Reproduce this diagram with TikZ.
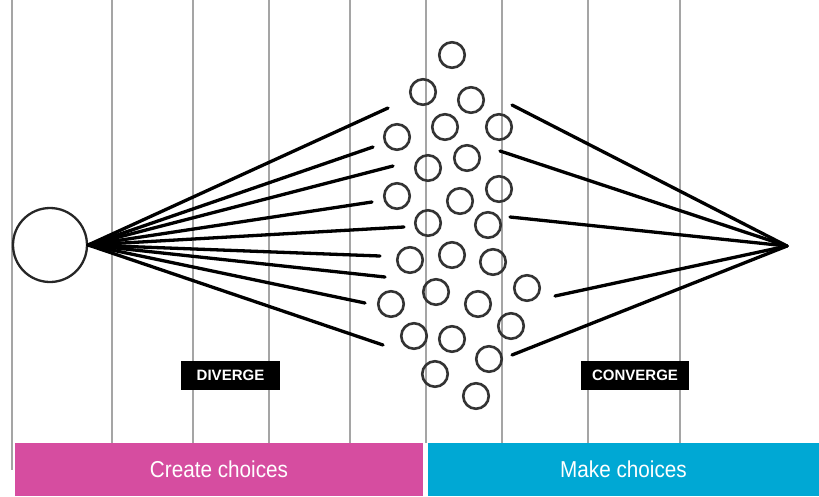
\documentclass[tikz,border=0pt]{standalone}
\usepackage{fontspec}
\setmainfont{Liberation Sans}
\usepackage{tikz}
\definecolor{choicepink}{RGB}{214,77,160}
\definecolor{choicecyan}{RGB}{0,168,212}
\definecolor{gridgray}{RGB}{165,165,165}

\begin{document}
\begin{tikzpicture}[x=1pt,y=-1pt,
	idea/.style={circle, draw=black!80, line width=2.6pt, minimum size=25.5pt, inner sep=0pt},
	fan/.style={black, line width=3.3pt, line cap=round},
	divider/.style={gridgray, line width=1.3pt},
	tag/.style={fill=black, text=white, font=\fontsize{15}{15}\selectfont\bfseries, minimum height=29pt, inner sep=0pt},
	phase/.style={text=white, font=\fontsize{23}{23}\selectfont, minimum height=53pt, inner sep=0pt}]
	\useasboundingbox (0,0) rectangle (819,496);
	
	% dividers
	\draw[divider] (12,0) -- (12,470);
	\draw[divider] (112,0) -- (112,443);
	\draw[divider] (193,0) -- (193,443);
	\draw[divider] (269,0) -- (269,443);
	\draw[divider] (350,0) -- (350,443);
	\draw[divider] (426,0) -- (426,443);
	\draw[divider] (502,0) -- (502,443);
	\draw[divider] (588,0) -- (588,443);
	\draw[divider] (680,0) -- (680,443);
	
	% start and end
	\node[circle, draw=black!85, line width=2.3pt, minimum size=74pt, inner sep=0pt] (hub) at (50,245) {};
	\coordinate (sink) at (787,246);
	
	% ideas
	\node[idea] (c1) at (452,55) {};
	\node[idea] (c2) at (423,92) {};
	\node[idea] (c3) at (471,100) {};
	\node[idea] (c4) at (445,127) {};
	\node[idea] (c5) at (499,127) {};
	\node[idea] (c6) at (397,137) {};
	\node[idea] (c7) at (467,158) {};
	\node[idea] (c8) at (428,168) {};
	\node[idea] (c9) at (499,189) {};
	\node[idea] (c10) at (397,196) {};
	\node[idea] (c11) at (460,201) {};
	\node[idea] (c12) at (428,223) {};
	\node[idea] (c13) at (488,225) {};
	\node[idea] (c14) at (410,260) {};
	\node[idea] (c15) at (452,255) {};
	\node[idea] (c16) at (493,262) {};
	\node[idea] (c17) at (527,288) {};
	\node[idea] (c18) at (436,292) {};
	\node[idea] (c19) at (391,304) {};
	\node[idea] (c20) at (478,304) {};
	\node[idea] (c21) at (511,326) {};
	\node[idea] (c22) at (414,336) {};
	\node[idea] (c23) at (452,339) {};
	\node[idea] (c24) at (489,359) {};
	\node[idea] (c25) at (435,374) {};
	\node[idea] (c26) at (476,396) {};
	
	% diverge ends
	\coordinate (d1) at (388,108);
	\coordinate (d2) at (373,147);
	\coordinate (d3) at (393,166);
	\coordinate (d4) at (372,202);
	\coordinate (d5) at (404,227);
	\coordinate (d6) at (380,256);
	\coordinate (d7) at (385,277);
	\coordinate (d8) at (365,303);
	\coordinate (d9) at (383,345);
	% converge ends
	\coordinate (v1) at (512,105);
	\coordinate (v2) at (500,151);
	\coordinate (v3) at (510,217);
	\coordinate (v4) at (555,296);
	\coordinate (v5) at (512,355);
	
	% diverge
	\draw[fan] (hub.east) -- (d1);
	\draw[fan] (hub.east) -- (d2);
	\draw[fan] (hub.east) -- (d3);
	\draw[fan] (hub.east) -- (d4);
	\draw[fan] (hub.east) -- (d5);
	\draw[fan] (hub.east) -- (d6);
	\draw[fan] (hub.east) -- (d7);
	\draw[fan] (hub.east) -- (d8);
	\draw[fan] (hub.east) -- (d9);
	% converge
	\draw[fan] (v1) -- (sink);
	\draw[fan] (v2) -- (sink);
	\draw[fan] (v3) -- (sink);
	\draw[fan] (v4) -- (sink);
	\draw[fan] (v5) -- (sink);
	
	% labels
	\node[tag, minimum width=99pt] (diverge) at (230.5,375) {DIVERGE};
	\node[tag, minimum width=108pt] (converge) at (635,375) {CONVERGE};
	
	% phases
	\node[phase, fill=choicepink, minimum width=408pt] (create) at (219,469.5) {\scalebox{0.9}[1]{Create choices}};
	\node[phase, fill=choicecyan, minimum width=391pt] (make) at (623.5,469.5) {\scalebox{0.9}[1]{Make choices}};
\end{tikzpicture}
\end{document}
